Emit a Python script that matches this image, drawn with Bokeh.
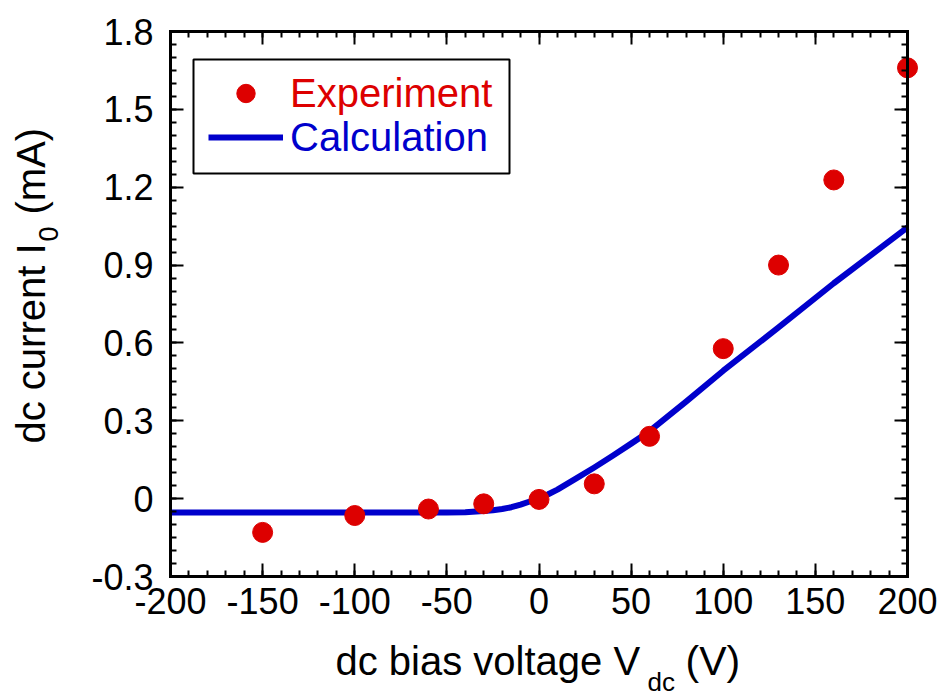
import math
import numpy as np
from bokeh.plotting import figure
from bokeh.models import (LinearAxis, FixedTicker, CustomJSTickFormatter, Range1d,
                          Legend, LegendItem, BoxAnnotation, Label)
from bokeh.embed import file_html
from bokeh.resources import INLINE

# ---------------- data ----------------
exp_v = [-150, -100, -60, -30, 0, 30, 60, 100, 130, 160, 200]
exp_i = [-0.13, -0.065, -0.04, -0.02, -0.003, 0.057, 0.24, 0.578, 0.90, 1.228, 1.66]

calc_v = [-200, -150, -100, -50, -40, -30, -25, -20, -15, -10, -5, 0, 5, 10,
          20, 30, 40, 50, 60, 80, 100, 130, 160, 200]
calc_i = [-0.053, -0.053, -0.053, -0.053, -0.052, -0.048, -0.045, -0.040, -0.033,
          -0.023, -0.011, 0.002, 0.017, 0.035, 0.077, 0.12, 0.165, 0.212, 0.26,
          0.375, 0.493, 0.66, 0.83, 1.045]

x_ticks = [-200, -150, -100, -50, 0, 50, 100, 150, 200]
x_tick_labels = ["-200", "-150", "-100", "-50", "0", "50", "100", "150", "200"]
y_ticks = [-0.3, 0.0, 0.3, 0.6, 0.9, 1.2, 1.5, 1.8]
y_tick_labels = ["-0.3", "0", "0.3", "0.6", "0.9", "1.2", "1.5", "1.8"]

legend_labels = ["Experiment", "Calculation"]
x_title, x_title_sub, x_title_end = "dc bias voltage V", "dc", "(V)"
y_title, y_title_sub, y_title_end = "dc current I", "0", "(mA)"

# ---------------- style / geometry ----------------
RED = "#DD0000"
BLUE = "#0000CC"
FONT = "Liberation Sans"
W, H = 942, 698
FL, FR, FT, FB = 170, 907, 31, 576      # axes box in pixels
X0, X1 = x_ticks[0], x_ticks[-1]
Y0, Y1 = y_ticks[0], y_ticks[-1]
ux = (X1 - X0) / (FR - FL)
uy = (Y1 - Y0) / (FB - FT)
SHIFT = 12                               # label baseline correction (px)


def dx(px):
    return X0 + (px - FL) * ux


def dy(py):
    return Y0 + (FB - py) * uy


# the plotting frame covers the whole canvas; the axes box is drawn with
# fixed-location axes so nothing (edge markers, titles) gets clipped
p = figure(width=W, height=H, output_backend="svg", toolbar_location=None,
           x_range=Range1d(dx(0), dx(W)), y_range=Range1d(dy(H), dy(0)),
           x_axis_location=None, y_axis_location=None,
           min_border_left=0, min_border_right=0, min_border_top=0, min_border_bottom=0)
p.grid.visible = False
p.outline_line_color = None
p.background_fill_color = "white"
p.border_fill_color = "white"

x_minor = [float(v) for v in np.arange(X0, X1 + 1, 10)]
y_minor = [round(float(v), 3) for v in np.arange(Y0, Y1 + 0.001, 0.05)]
xticker = FixedTicker(ticks=x_ticks, minor_ticks=x_minor)
yticker = FixedTicker(ticks=y_ticks, minor_ticks=y_minor)

fmt_code = """
let best = 0, d = Infinity;
for (let i = 0; i < tvals.length; i++) {
  const e = Math.abs(tvals[i] - tick);
  if (e < d) { d = e; best = i; }
}
return tlabels[best];
"""
xfmt = CustomJSTickFormatter(args=dict(tvals=x_ticks, tlabels=x_tick_labels), code=fmt_code)
yfmt = CustomJSTickFormatter(args=dict(tvals=y_ticks, tlabels=y_tick_labels), code=fmt_code)
blank = CustomJSTickFormatter(code="return '';")


def make_axis(ticker, formatter, fixed, bounds, show_labels, standoff):
    return LinearAxis(ticker=ticker, formatter=formatter, fixed_location=fixed, bounds=bounds,
                      axis_line_width=3, axis_line_color="black", axis_line_cap="square",
                      major_tick_in=13, major_tick_out=0, minor_tick_in=6, minor_tick_out=0,
                      major_tick_line_width=2, minor_tick_line_width=2,
                      major_tick_line_color="black", minor_tick_line_color="black",
                      major_label_text_font=FONT,
                      major_label_text_font_size="36px" if show_labels else "1px",
                      major_label_text_color="black",
                      major_label_standoff=standoff)


p.add_layout(make_axis(xticker, xfmt, Y0, (X0, X1), True, 11), "below")
p.add_layout(make_axis(xticker, blank, Y1, (X0, X1), False, 0), "above")
p.add_layout(make_axis(yticker, yfmt, X0, (Y0, Y1), True, 17), "left")
p.add_layout(make_axis(yticker, blank, X1, (Y0, Y1), False, 0), "right")

line_r = p.line(calc_v, calc_i, line_width=6, line_color=BLUE, line_join="round")
dots_r = p.scatter(exp_v, exp_i, marker="circle", size=20, fill_color=RED, line_color=RED)

# legend: two stacked legends (different text colours) inside one box
box = BoxAnnotation(left=dx(193), right=dx(509), top=dy(59), bottom=dy(173),
                    fill_alpha=0, line_color="black", line_alpha=1.0, line_width=2)
p.add_layout(box)

ROW = 46
for label, rend, colour, cy in [(legend_labels[0], dots_r, RED, 93),
                                (legend_labels[1], line_r, BLUE, 137)]:
    lg = Legend(items=[LegendItem(label=label, renderers=[rend])],
                location=(208, H - cy - ROW / 2),
                padding=0, margin=0, spacing=0, glyph_width=75, glyph_height=ROW,
                label_height=ROW, label_standoff=7, border_line_color=None,
                background_fill_alpha=0, label_text_font=FONT,
                label_text_font_size="40px", label_text_color=colour)
    p.add_layout(lg)

# axis titles with subscripts
common = dict(text_font=FONT, text_color="black", text_align="left",
              text_baseline="alphabetic")
p.add_layout(Label(x=dx(335), y=dy(672 - SHIFT), text=x_title, text_font_size="40px", **common))
p.add_layout(Label(x=dx(647), y=dy(693 - SHIFT), text=x_title_sub, text_font_size="26px", **common))
p.add_layout(Label(x=dx(685), y=dy(672 - SHIFT), text=x_title_end, text_font_size="41px", **common))

rot = math.pi / 2
p.add_layout(Label(x=dx(42 - SHIFT), y=dy(443), text=y_title, angle=rot,
                   text_font_size="40px", **common))
p.add_layout(Label(x=dx(60 - SHIFT), y=dy(241), text=y_title_sub, angle=rot,
                   text_font_size="27px", **common))
p.add_layout(Label(x=dx(42 - SHIFT), y=dy(214), text=y_title_end, angle=rot,
                   text_font_size="40px", **common))

open("out.html", "w").write(file_html(p, INLINE))
